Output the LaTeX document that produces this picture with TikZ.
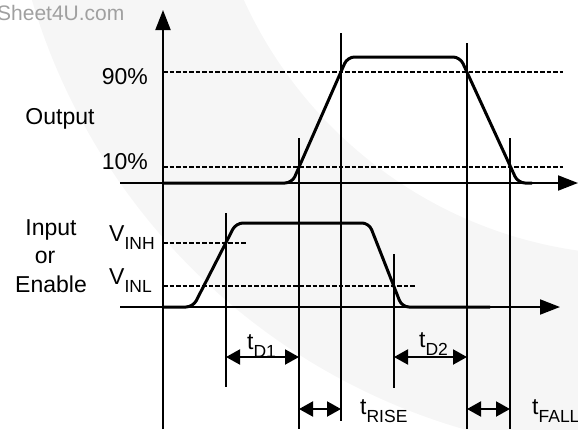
\documentclass[tikz,border=0pt]{standalone}
\usepackage{fontspec}
\setmainfont{Liberation Sans}
\usetikzlibrary{arrows.meta}
\definecolor{wmark}{HTML}{A0A0A0}
\definecolor{band}{HTML}{F6F6F6}
\newcommand\mysub[1]{\raisebox{-8.5pt}{\fontsize{17.5}{17.5}\selectfont #1}}
\begin{document}
\begin{tikzpicture}[x=1pt,y=-1pt,
  axis/.style={line width=2pt},
  axisarrow/.style={axis,-{Triangle[length=20pt,width=15pt]}},
  wave/.style={line width=3pt, rounded corners=7pt, line join=round},
  marker/.style={line width=1.2pt},
  level/.style={line width=1.2pt, dash pattern=on 4.5pt off 2pt},
  dim/.style={line width=2pt,{Triangle[length=14pt,width=15pt]}-{Triangle[length=14pt,width=15pt]}},
  lbl/.style={font=\fontsize{23}{23}\selectfont, inner sep=0pt},
]
\useasboundingbox (0,0) rectangle (578,429);
% background watermark band
\begin{scope}
  \clip (0,0) rectangle (578,429);
  \fill[band, even odd rule] (640,-180) circle[radius=634pt] (640,-180) circle[radius=435pt];
  \node[font=\fontsize{21}{21}\selectfont, text=wmark, inner sep=0pt, anchor=base west] (wm) at (-3,20) {Sheet4U.com};
\end{scope}

% coordinates
\coordinate (yaxB) at (163,429);
\coordinate (yaxT) at (163,10);
\coordinate (oaxL) at (120,183);
\coordinate (oaxR) at (578,183);
\coordinate (iaxL) at (120,307);
\coordinate (iaxR) at (560,307);

% level lines
\coordinate (l90a) at (163,72);  \coordinate (l90b) at (563,72);
\coordinate (l10a) at (163,167); \coordinate (l10b) at (563,167);
\coordinate (lHa) at (163,243);  \coordinate (lHb) at (247,243);
\coordinate (lLa) at (163,286);  \coordinate (lLb) at (416,286);
\draw[level] (l90a) -- (l90b);
\draw[level] (l10a) -- (l10b);
\draw[level] (lHa) -- (lHb);
\draw[level] (lLa) -- (lLb);

% vertical marker lines
\coordinate (m1t) at (226,213); \coordinate (m1b) at (226,387);
\coordinate (m2t) at (299,138); \coordinate (m2b) at (299,429);
\coordinate (m3t) at (341,33);  \coordinate (m3b) at (341,421);
\coordinate (m4t) at (394,254); \coordinate (m4b) at (394,388);
\coordinate (m5t) at (467,43);  \coordinate (m5b) at (467,429);
\coordinate (m6t) at (510,138); \coordinate (m6b) at (510,429);
\draw[marker] (m1t) -- (m1b);
\draw[marker] (m2t) -- (m2b);
\draw[marker] (m3t) -- (m3b);
\draw[marker] (m4t) -- (m4b);
\draw[marker] (m5t) -- (m5b);
\draw[marker] (m6t) -- (m6b);

% axes
\draw[axisarrow] (yaxB) -- (yaxT);
\draw[axisarrow] (oaxL) -- (oaxR);
\draw[axisarrow] (iaxL) -- (iaxR);

% waveforms
\draw[wave] (163,183) -- (292,183) -- (347.5,57) -- (460,57) -- (518,183) -- (532,183);
\draw[wave] (163,307) -- (193,307) -- (236,223) -- (369,223) -- (402,307) -- (490,307);

% dimension arrows
\draw[dim] (226,357) -- (299,357);
\draw[dim] (394,357) -- (467,357);
\draw[dim] (299,409) -- (341,409);
\draw[dim] (467,409) -- (510,409);

% labels
\node[lbl, anchor=base east] (p90) at (148,84) {90\%};
\node[lbl, anchor=base east] (p10) at (148,169) {10\%};
\node[lbl, anchor=base] (out) at (60,124) {Output};
\node[lbl, anchor=base] (in1) at (51,235) {Input};
\node[lbl, anchor=base] (in2) at (45,263) {or};
\node[lbl, anchor=base] (in3) at (51,292) {Enable};
\node[lbl, anchor=base west] (vinh) at (109,241) {V\mysub{INH}};
\node[lbl, anchor=base west] (vinl) at (109,284) {V\mysub{INL}};
\node[lbl, anchor=base west] (td1) at (247,349) {t\mysub{D1}};
\node[lbl, anchor=base west] (td2) at (419,347) {t\mysub{D2}};
\node[lbl, anchor=base west] (trise) at (360,414) {t\mysub{RISE}};
\node[lbl, anchor=base west] (tfall) at (532,414) {t\mysub{FALL}};
\end{tikzpicture}
\end{document}
